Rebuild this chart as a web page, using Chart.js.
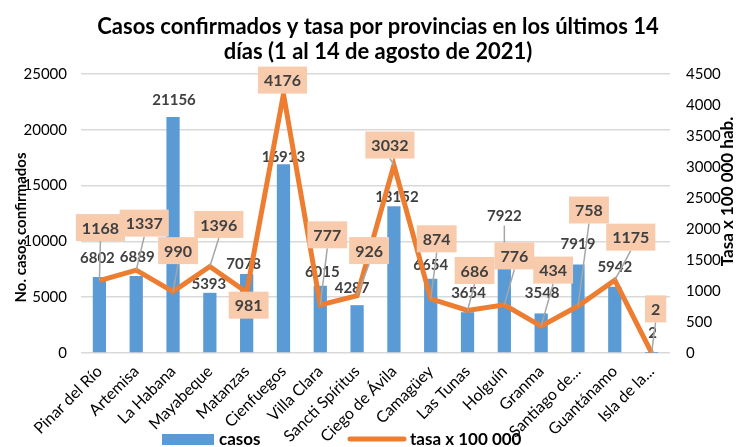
<!DOCTYPE html>
<html>
<head>
<meta charset="utf-8">
<script src="https://cdn.jsdelivr.net/npm/chart.js@4/dist/chart.umd.min.js"></script>
<style>
  html, body { margin: 0; background: #fff; }
  #wrap { width: 738px; height: 447px; }
</style>
</head>
<body>
<div id="wrap"><canvas id="chart"></canvas></div>
<script>
const titleLines = ['Casos confirmados y tasa por provincias en los últimos 14', 'días (1 al 14 de agosto de 2021)'];
const provincias = ['Pinar del Río', 'Artemisa', 'La Habana', 'Mayabeque', 'Matanzas', 'Cienfuegos',
  'Villa Clara', 'Sancti Spíritus', 'Ciego de Ávila', 'Camagüey', 'Las Tunas', 'Holguín',
  'Granma', 'Santiago de...', 'Guantánamo', 'Isla de la...'];
const casos = [6802, 6889, 21156, 5393, 7078, 16913, 6015, 4287, 13152, 6654, 3654, 7922, 3548, 7919, 5942, 2];
const tasa = [1168, 1337, 990, 1396, 981, 4176, 777, 926, 3032, 874, 686, 776, 434, 758, 1175, 2];

// labels were moved by hand in the original, nudges in px from the mark
const casosLabelShift = [[-2, -19], [1, -19], [1, -17], [-1, -9], [-3, -10], [0, -7], [2, -14], [-5, -17],
  [3, -9], [0, -14], [1, -19], [0, -48], [1, -20], [0, -20], [0, -20], [1, -20]];
const tasaLabelShift = [[1, -53], [8, -47], [5, -41], [9, -42], [2, 13], [-1, -14], [7, -70], [12, -45],
  [-4, -20], [6, -60], [7, -40], [10, -49], [12, -56], [11, -96], [16, -43], [4, -44]];

const FONT = 'Lato';
const TXT = '#404040';

const labelsPlugin = {
  id: 'labels',
  afterDatasetDraw(chart, args) {
    const ctx = chart.ctx;
    const meta = args.meta;
    ctx.save();
    ctx.textAlign = 'center';
    ctx.textBaseline = 'middle';
    if (meta.type === 'bar') {
      ctx.font = 'bold 15px ' + FONT;
      meta.data.forEach((el, i) => {
        const [dx, dy] = casosLabelShift[i];
        const x = el.x + dx, y = el.y + dy;
        if (dy < -30) {
          ctx.strokeStyle = '#A6A6A6';
          ctx.lineWidth = 1.5;
          ctx.beginPath();
          ctx.moveTo(el.x, el.y - 2);
          ctx.lineTo(x, y + 9);
          ctx.stroke();
        }
        ctx.fillStyle = TXT;
        ctx.fillText(String(casos[i]), x, y);
      });
    } else {
      ctx.font = 'bold 16px ' + FONT;
      meta.data.forEach((el, i) => {
        const [dx, dy] = tasaLabelShift[i];
        const cx = el.x + dx, cy = el.y + dy;
        const txt = String(tasa[i]);
        const w = ctx.measureText(txt).width + 12, h = 27;
        const top = cy - h / 2, bottom = cy + h / 2;
        if (el.y > bottom + 6 || el.y < top - 6) {
          ctx.strokeStyle = '#A6A6A6';
          ctx.lineWidth = 1.5;
          ctx.beginPath();
          ctx.moveTo(el.x, el.y);
          ctx.lineTo(cx, el.y > bottom ? bottom : top);
          ctx.stroke();
        }
        ctx.fillStyle = '#F8CBAD';
        ctx.fillRect(cx - w / 2, top, w, h);
        ctx.fillStyle = TXT;
        ctx.fillText(txt, cx, cy + 1);
      });
    }
    ctx.restore();
  },
  afterDraw(chart) {
    const ctx = chart.ctx;
    const area = chart.chartArea;

    // title
    ctx.save();
    ctx.font = 'bold 22px ' + FONT;
    ctx.fillStyle = '#000';
    ctx.textAlign = 'center';
    ctx.textBaseline = 'middle';
    titleLines.forEach((t, i) => ctx.fillText(t, 378, 27 + i * 25));
    ctx.restore();

    // axis titles
    ctx.save();
    ctx.fillStyle = '#000';
    ctx.textAlign = 'center';
    ctx.textBaseline = 'middle';
    ctx.font = 'bold 15px ' + FONT;
    ctx.translate(21, (area.top + area.bottom) / 2 + 14);
    ctx.rotate(-Math.PI / 2);
    ctx.fillText('No. casos confirmados', 0, 0);
    ctx.restore();

    ctx.save();
    ctx.fillStyle = '#000';
    ctx.textAlign = 'center';
    ctx.textBaseline = 'middle';
    ctx.font = 'bold 17px ' + FONT;
    ctx.translate(area.right + 58, (area.top + area.bottom) / 2 - 22);
    ctx.rotate(-Math.PI / 2);
    ctx.fillText('Tasa x 100 000 hab.', 0, 0);
    ctx.restore();

    // legend
    ctx.save();
    ctx.font = 'bold 17px ' + FONT;
    ctx.textBaseline = 'middle';
    ctx.fillStyle = '#5B9BD5';
    ctx.fillRect(162, 434, 52, 11);
    ctx.fillStyle = '#000';
    ctx.fillText('casos', 219, 440);
    ctx.strokeStyle = '#ED7D31';
    ctx.lineWidth = 5;
    ctx.lineCap = 'round';
    ctx.beginPath();
    ctx.moveTo(350, 439);
    ctx.lineTo(404, 439);
    ctx.stroke();
    ctx.fillText('tasa x 100 000', 410, 440);
    ctx.restore();
  }
};

new Chart(document.getElementById('chart'), {
  data: {
    labels: provincias,
    datasets: [
      {
        type: 'line',
        label: 'tasa x 100 000',
        data: tasa,
        yAxisID: 'y1',
        borderColor: '#ED7D31',
        borderWidth: 5,
        pointRadius: 0,
        tension: 0,
        order: 0
      },
      {
        type: 'bar',
        label: 'casos',
        data: casos,
        yAxisID: 'y',
        backgroundColor: '#5B9BD5',
        barPercentage: 0.36,
        categoryPercentage: 1,
        order: 1
      }
    ]
  },
  options: {
    responsive: true,
    maintainAspectRatio: false,
    animation: false,
    layout: { padding: { top: 74 } },
    plugins: {
      legend: { display: false },
      tooltip: { enabled: false }
    },
    scales: {
      x: {
        grid: { display: false, drawTicks: false },
        border: { display: false },
        ticks: {
          color: '#000',
          font: { family: FONT, size: 16 },
          maxRotation: 45,
          minRotation: 45,
          padding: 9,
          autoSkip: false
        },
        afterFit(scale) { scale.height = 94; }
      },
      y: {
        position: 'left',
        min: 0,
        max: 25000,
        ticks: {
          stepSize: 5000, color: '#000', font: { family: FONT, size: 15 }, padding: 14,
          callback: v => String(v)
        },
        grid: { color: '#D9D9D9', lineWidth: 1.5, drawTicks: false },
        border: { display: false },
        afterFit(scale) { scale.width = 81; }
      },
      y1: {
        position: 'right',
        min: 0,
        max: 4500,
        ticks: {
          stepSize: 500, color: '#000', font: { family: FONT, size: 15 }, padding: 16,
          callback: v => String(v)
        },
        grid: { display: false, drawTicks: false },
        border: { display: false },
        afterFit(scale) { scale.width = 68; }
      }
    }
  },
  plugins: [labelsPlugin]
});
</script>
</body>
</html>
